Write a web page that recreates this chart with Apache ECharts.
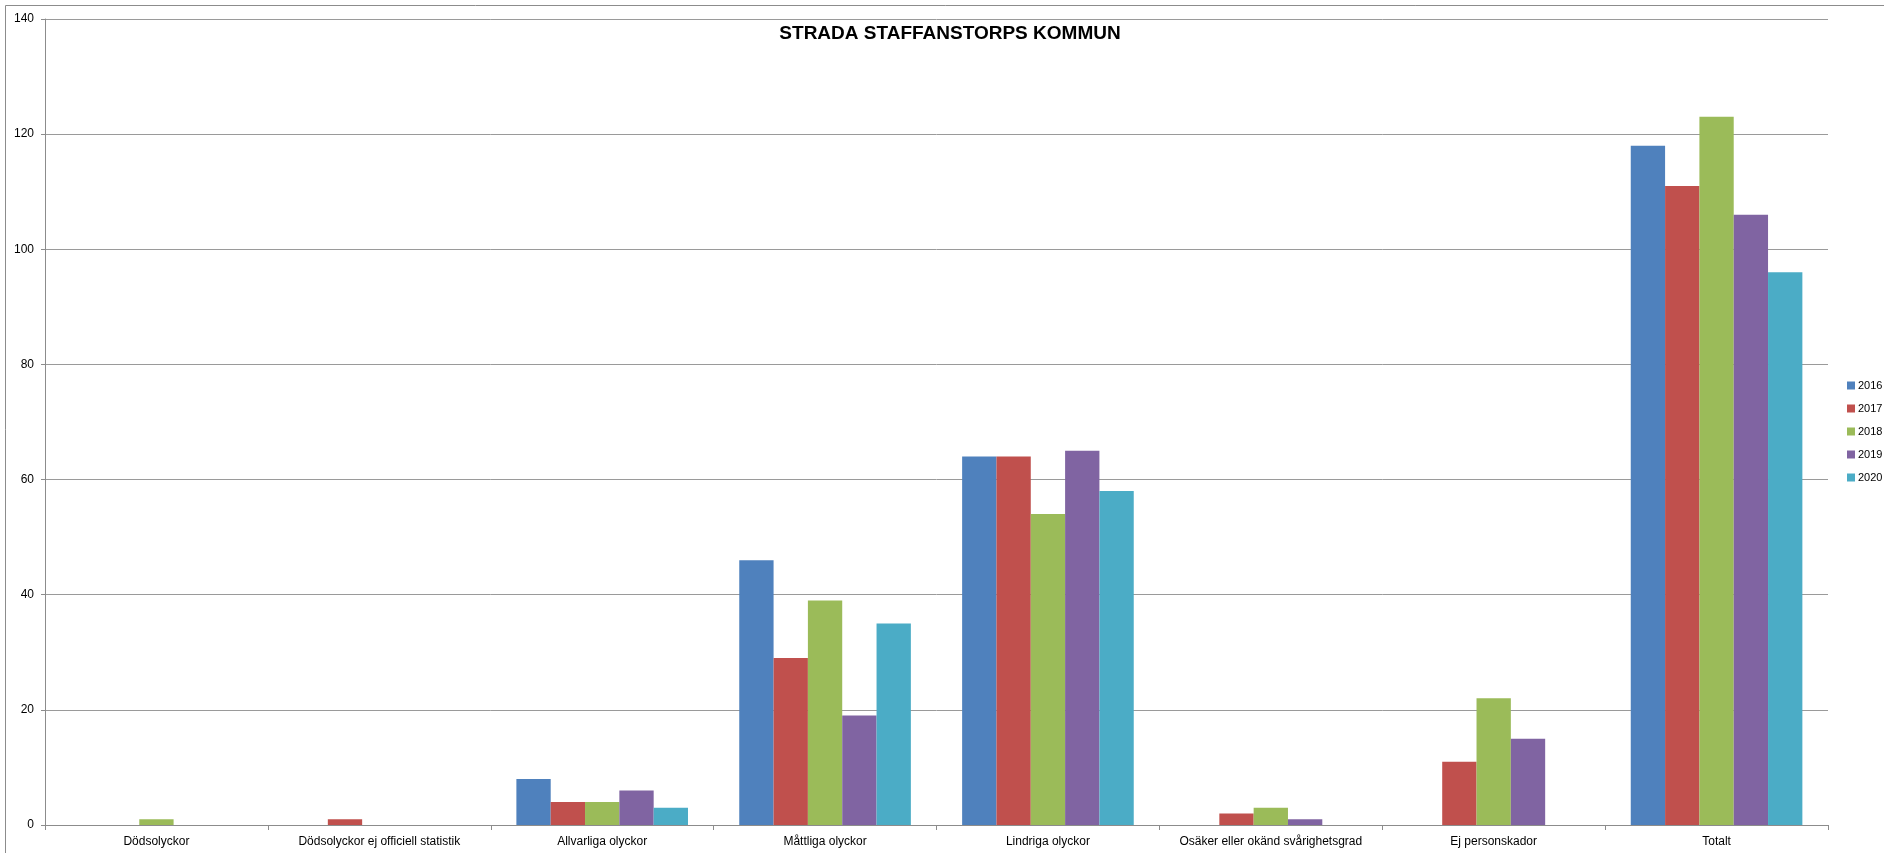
<!DOCTYPE html>
<html>
<head>
<meta charset="utf-8">
<script src="https://cdn.jsdelivr.net/npm/echarts@6/dist/echarts.min.js"></script>
<style>
  html, body { margin: 0; padding: 0; background: #fff; }
  #main { width: 1884px; height: 853px; }
</style>
</head>
<body>
<div id="main"></div>
<script>
// kategorier och värden per år
var categories = ['Dödsolyckor', 'Dödsolyckor ej officiell statistik', 'Allvarliga olyckor', 'Måttliga olyckor',
  'Lindriga olyckor', 'Osäker eller okänd svårighetsgrad', 'Ej personskador', 'Totalt'];
var years = ['2016', '2017', '2018', '2019', '2020'];
var v2016 = [0, 0, 8, 46, 64, 0, 0, 118];
var v2017 = [0, 1, 4, 29, 64, 2, 11, 111];
var v2018 = [1, 0, 4, 39, 54, 3, 22, 123];
var v2019 = [0, 0, 6, 19, 65, 1, 15, 106];
var v2020 = [0, 0, 3, 35, 58, 0, 0, 96];
var yTicks = [0, 20, 40, 60, 80, 100, 120, 140];

var colors = ['#4F81BD', '#C0504D', '#9BBB59', '#8064A2', '#4BACC6'];
var values = [v2016, v2017, v2018, v2019, v2020];

var chart = echarts.init(document.getElementById('main'));

var series = years.map(function (y, i) {
  return {
    name: y,
    type: 'bar',
    data: values[i],
    barGap: '0%',
    barCategoryGap: '23%',
    itemStyle: { color: colors[i] }
  };
});

var option = {
  animation: false,
  textStyle: { fontFamily: 'Liberation Sans, Arial, sans-serif' },
  color: colors,
  title: {
    text: 'STRADA STAFFANSTORPS KOMMUN',
    left: 945,
    textAlign: 'center',
    top: 19,
    textStyle: { fontSize: 19, fontWeight: 'bold', color: '#000' }
  },
  legend: {
    orient: 'vertical',
    left: 1842,
    top: 375,
    itemWidth: 8,
    itemHeight: 8,
    itemGap: 12,
    icon: 'rect',
    textStyle: { fontSize: 11, color: '#000', padding: [0, 0, 0, -2] },
    data: years
  },
  graphic: [{
    type: 'rect',
    shape: { x: 5.5, y: 5.5, width: 1900, height: 900 },
    style: { fill: 'none', stroke: '#8c8c8c', lineWidth: 1 },
    silent: true
  }],
  grid: { left: 45, right: 56, top: 19, bottom: 28 },
  xAxis: {
    type: 'category',
    data: categories,
    axisLine: { lineStyle: { color: '#8c8c8c', width: 1 } },
    axisTick: { show: true, length: 5, alignWithLabel: false, lineStyle: { color: '#8c8c8c' } },
    axisLabel: { color: '#000', fontSize: 12, margin: 11, interval: 0 }
  },
  yAxis: {
    type: 'value',
    min: yTicks[0],
    max: yTicks[yTicks.length - 1],
    interval: 20,
    axisLine: { show: true, lineStyle: { color: '#8c8c8c', width: 1 } },
    axisTick: { show: true, length: 4, lineStyle: { color: '#8c8c8c' } },
    axisLabel: { color: '#000', fontSize: 12, margin: 11 },
    splitLine: { lineStyle: { color: '#9a9a9a', width: 1 } }
  },
  series: series
};

chart.setOption(option);
</script>
</body>
</html>
